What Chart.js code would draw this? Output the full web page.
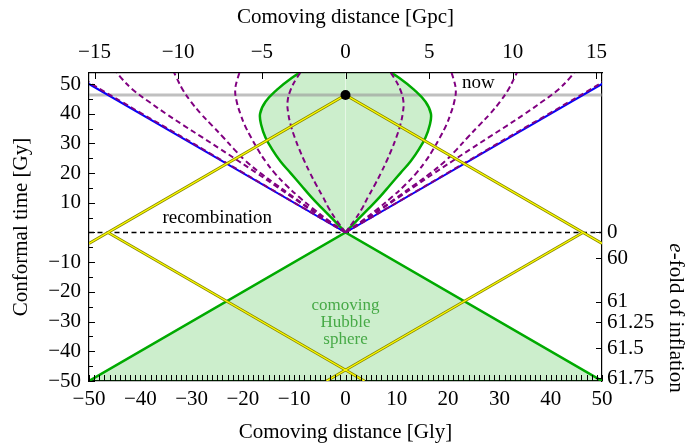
<!DOCTYPE html>
<html lang="en">
<head>
<meta charset="UTF-8">
<title>Conformal diagram</title>
<script src="https://cdn.jsdelivr.net/npm/chart.js"></script>
<style>
    body, html { margin: 0; padding: 0; overflow: hidden; background: #fff; }
</style>
</head>
<body>
<canvas id="chart" width="693" height="445"></canvas>
<script>
// ranges (comoving distance in Gly, conformal time in Gy)
const xRange = [-50, 50];
const tauRange = [-50, 53.7];
const glyPerGpc = 3.2616;

const tauNow = 46.3;
const tauRecomb = 0;

// comoving Hubble sphere after recombination
const hubbleTau  = [0, 4, 8, 12, 16, 20, 24, 28, 32, 36, 40, 44, 48, 52, 56];
const hubbleDist = [0, 2.2, 4.5, 6.7, 8.7, 10.7, 12.7, 14.3, 15.6, 16.4, 16.65, 15.6, 13.4, 10.5, 7.0];

// dashed purple curves (distance at each conformal time, mirrored left/right)
const curveTau = [0, 4, 8, 12, 16, 20, 24, 28, 32, 36, 40, 44, 48, 52, 56];
const curve1 = [0, 1.7, 3.2, 4.4, 5.7, 6.9, 8.0, 9.0, 9.9, 10.65, 11.15, 11.3, 10.7, 9.5, 7.9];
const curve2 = [0, 3.3, 6.3, 9.1, 11.6, 13.8, 15.6, 17.1, 18.4, 19.6, 20.5, 21.2, 21.5, 21.0, 20.2];
const curve3 = [0, 3.5, 6.9, 10.2, 13.4, 16.6, 19.4, 21.7, 23.8, 26.0, 28.2, 30.1, 31.7, 32.9, 34.0];
const curve4 = [0, 3.6, 7.1, 10.5, 13.9, 17.3, 20.8, 24.3, 27.9, 31.5, 35.0, 38.3, 41.4, 43.7, 45.5];
const curve5 = [0, 3.98, 7.96, 11.94, 15.9, 19.85, 23.8, 27.75, 31.7, 35.65, 39.7, 43.6, 47.6, 51.3, 54.9];

// e-fold axis on the right
const efoldTau = [0, -8.7, -23.3, -30.2, -38.9, -49.0];
const efoldLabels = ['0', '60', '61', '61.25', '61.5', '61.75'];

const fmt = v => (v < 0 ? '\u2212' + Math.abs(v) : String(v));

const green = '#00aa00';
const greenFill = 'rgba(0,170,0,0.2)';
const purple = '#800080';

const side = (dist, taus, sign) => dist.map((d, i) => ({ x: sign * d, y: taus[i] }));

const hubbleRight = side(hubbleDist, hubbleTau, 1);
const hubbleLeft = side(hubbleDist, hubbleTau, -1);
const teardrop = hubbleRight.concat(hubbleLeft.slice().reverse());

function line(data, color, width, order, extra) {
    return Object.assign({ data, borderColor: color, borderWidth: width, pointRadius: 0, fill: false, order }, extra || {});
}

// light rays: through us now, and reflected at recombination
const rayNow = [{ x: xRange[0], y: tauNow + xRange[0] }, { x: 0, y: tauNow }, { x: xRange[1], y: tauNow - xRange[1] }];
const rayLeft = [{ x: -tauNow, y: tauRecomb }, { x: -tauNow - tauRange[0], y: tauRange[0] }];
const rayRight = [{ x: tauNow, y: tauRecomb }, { x: tauNow + tauRange[0], y: tauRange[0] }];

const datasets = [
    line([{ x: 0, y: tauNow }], '#000', 0, 0, { pointRadius: 5, pointBackgroundColor: '#000', pointBorderWidth: 0, showLine: false }),
    ...[rayNow, rayLeft, rayRight].flatMap(d => [line(d, '#ffff00', 1.2, 1), line(d, '#8a8a00', 2.8, 2)])
];

[curve1, curve2, curve3, curve4, curve5].forEach(c => {
    [1, -1].forEach(s => datasets.push(line(side(c, curveTau, s), purple, 2, 3, { borderDash: [5.5, 3.5], tension: 0.4 })));
});

datasets.push(
    line([{ x: 0, y: 0 }, { x: -60, y: 60 }], '#0000ff', 2, 4),
    line([{ x: 0, y: 0 }, { x: 60, y: 60 }], '#0000ff', 2, 4),
    line(hubbleRight, green, 2.5, 5, { tension: 0.4 }),
    line(hubbleLeft, green, 2.5, 5, { tension: 0.4 }),
    line([{ x: xRange[0], y: tauRange[0] }, { x: 0, y: 0 }, { x: xRange[1], y: tauRange[0] }], green, 2.5, 5, { fill: 'start', backgroundColor: greenFill }),
    line([{ x: xRange[0], y: tauRecomb }, { x: xRange[1], y: tauRecomb }], '#000', 1.5, 6, { borderDash: [5, 3.5] }),
    line([{ x: xRange[0], y: tauNow }, { x: xRange[1], y: tauNow }], 'rgba(150,150,150,0.6)', 3, 7),
    line([{ x: 0, y: 0 }, { x: 0, y: tauRange[1] }], 'rgba(255,255,255,0.5)', 1, 8),
    line(teardrop, 'rgba(0,0,0,0)', 0, 9, { fill: 'shape', backgroundColor: greenFill, tension: 0.4 })
);

const textFont = '"Liberation Serif", serif';

// inward tick marks on all four sides
const tickMarks = {
    id: 'tickMarks',
    afterDatasetsDraw(chart) {
        const { ctx, chartArea: a, scales } = chart;
        ctx.save();
        ctx.strokeStyle = '#000';
        ctx.lineWidth = 1;
        ctx.beginPath();
        for (let v = xRange[0]; v <= xRange[1]; v++) {
            const px = Math.round(scales.x.getPixelForValue(v)) + 0.5;
            ctx.moveTo(px, a.bottom); ctx.lineTo(px, a.bottom - 6);
        }
        for (let v = -15; v <= 15; v += 5) {
            const px = Math.round(scales.xTop.getPixelForValue(v)) + 0.5;
            ctx.moveTo(px, a.top); ctx.lineTo(px, a.top + 6);
        }
        for (let v = -50; v <= 50; v += 5) {
            const py = Math.round(scales.y.getPixelForValue(v)) + 0.5;
            ctx.moveTo(a.left, py); ctx.lineTo(a.left + (v % 10 === 0 ? 6 : 4), py);
        }
        efoldTau.forEach(v => {
            const py = Math.round(scales.yR.getPixelForValue(v)) + 0.5;
            ctx.moveTo(a.right, py); ctx.lineTo(a.right - 6, py);
        });
        ctx.stroke();
        ctx.restore();
    }
};

const labels = {
    id: 'labels',
    afterDraw(chart) {
        const { ctx, scales: { x, y } } = chart;
        ctx.save();
        ctx.textAlign = 'center';
        ctx.textBaseline = 'middle';
        ctx.fillStyle = '#000';
        ctx.font = '19px ' + textFont;
        ctx.fillText('recombination', x.getPixelForValue(-25), y.getPixelForValue(4.8));
        ctx.fillText('now', x.getPixelForValue(25.9), y.getPixelForValue(50.4));
        ctx.fillStyle = 'rgb(70,170,70)';
        ctx.font = '17px ' + textFont;
        ['comoving', 'Hubble', 'sphere'].forEach((t, i) => {
            ctx.fillText(t, x.getPixelForValue(0), y.getPixelForValue(-24.7 - 5.7 * i));
        });
        // right axis title, e in italics
        ctx.fillStyle = '#000';
        ctx.translate(676, 318);
        ctx.rotate(Math.PI / 2);
        ctx.textAlign = 'left';
        ctx.font = 'italic 21px ' + textFont;
        const we = ctx.measureText('e').width;
        ctx.font = '21px ' + textFont;
        const rest = '-fold of inflation';
        const wr = ctx.measureText(rest).width;
        const x0 = -(we + wr) / 2;
        ctx.font = 'italic 21px ' + textFont;
        ctx.fillText('e', x0, 0);
        ctx.font = '21px ' + textFont;
        ctx.fillText(rest, x0 + we, 0);
        ctx.restore();
    }
};

Chart.defaults.font.family = textFont;
Chart.defaults.font.size = 21;
Chart.defaults.color = '#000';

const border = { display: true, color: '#000', width: 1.2 };
const noGrid = { display: false, drawTicks: false };

new Chart(document.getElementById('chart'), {
    type: 'line',
    data: { datasets },
    options: {
        responsive: false,
        animation: false,
        layout: { padding: 0 },
        elements: { line: { capBezierPoints: false } },
        plugins: { legend: { display: false }, tooltip: { enabled: false } },
        scales: {
            x: {
                type: 'linear', position: 'bottom', min: xRange[0], max: xRange[1],
                grid: noGrid, border,
                ticks: { stepSize: 10, padding: 6, callback: fmt, autoSkip: false, maxRotation: 0 },
                title: { display: true, text: 'Comoving distance [Gly]', padding: { top: 0, bottom: 0 } },
                afterFit: s => { s.height = 64; }
            },
            xTop: {
                type: 'linear', position: 'top', min: xRange[0] / glyPerGpc, max: xRange[1] / glyPerGpc,
                grid: noGrid, border,
                ticks: { stepSize: 5, padding: 8, callback: fmt, includeBounds: false, autoSkip: false, maxRotation: 0 },
                title: { display: true, text: 'Comoving distance [Gpc]', padding: { top: 5, bottom: 0 } },
                afterFit: s => { s.height = 73; }
            },
            y: {
                type: 'linear', position: 'left', min: tauRange[0], max: tauRange[1],
                grid: noGrid, border,
                ticks: { stepSize: 10, padding: 8, includeBounds: false, autoSkip: false, callback: v => (v === 0 ? '' : fmt(v)) },
                title: { display: true, text: 'Conformal time [Gy]', padding: { top: 9, bottom: 0 } },
                afterFit: s => { s.width = 89; }
            },
            yR: {
                type: 'linear', position: 'right', min: tauRange[0], max: tauRange[1],
                grid: noGrid, border,
                afterBuildTicks: s => { s.ticks = efoldTau.map(v => ({ value: v })); },
                ticks: { padding: 5, autoSkip: false, callback: (v, i) => efoldLabels[i] },
                afterFit: s => { s.width = 91; }
            }
        }
    },
    plugins: [tickMarks, labels]
});
</script>
</body>
</html>
